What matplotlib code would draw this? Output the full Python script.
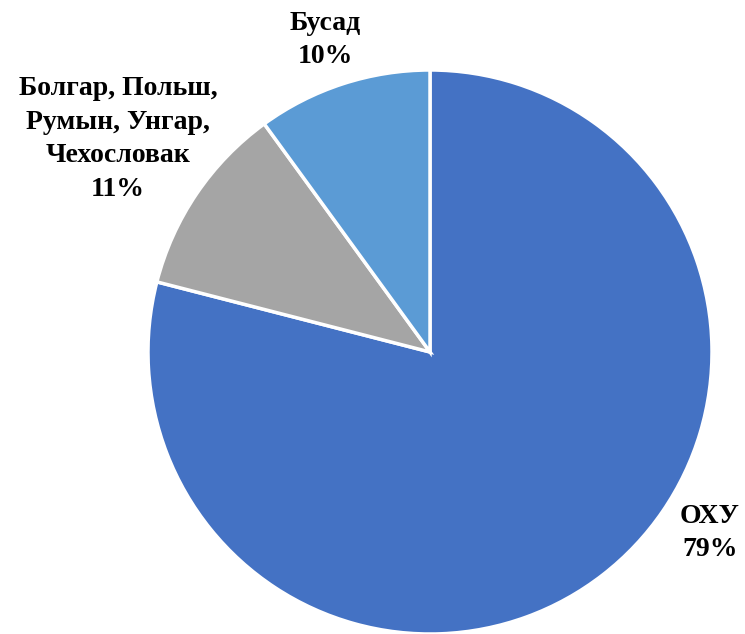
import matplotlib
matplotlib.use("Agg")
import matplotlib.pyplot as plt

categories = ["ОХУ", "Болгар, Польш,\nРумын, Унгар,\nЧехословак", "Бусад"]
values = [79, 11, 10]
colors = ["#4472C4", "#A5A5A5", "#5B9BD5"]
label_pos = [(0.993, -0.642), (-1.106, 0.755), (-0.372, 1.106)]

W, H, DPI = 745, 634, 100
fig = plt.figure(figsize=(W / DPI, H / DPI), dpi=DPI)
cx, cy, r = 430, 352, 282
ax = fig.add_axes([(cx - r) / W, (H - cy - r) / H, 2 * r / W, 2 * r / H])
wedges, _ = ax.pie(values, colors=colors, startangle=90, counterclock=False,
                   radius=1, wedgeprops=dict(edgecolor="white", linewidth=2.5))
for w in wedges:
    w.set_clip_on(False)
ax.set_xlim(-1, 1)
ax.set_ylim(-1, 1)
ax.set_aspect("equal")
ax.axis("off")

for cat, v, (x, y) in zip(categories, values, label_pos):
    ax.text(x, y, f"{cat}\n{v}%", ha="center", va="center",
            fontsize=20, fontweight="bold", family="Liberation Serif",
            linespacing=1.45, clip_on=False)

fig.savefig("out.png", dpi=DPI)
